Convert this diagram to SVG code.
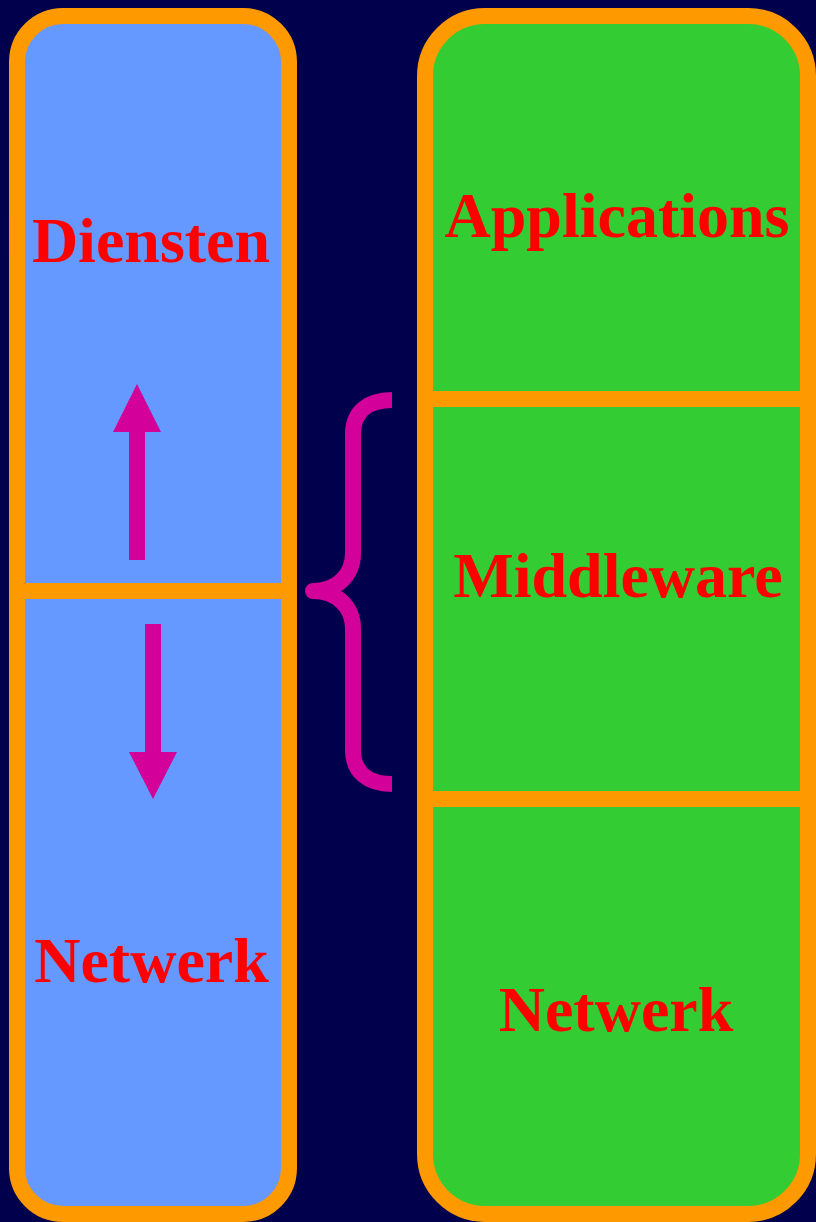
<svg xmlns="http://www.w3.org/2000/svg" width="816" height="1222" viewBox="0 0 816 1222">
<style>
.box{stroke:#FF9900;stroke-width:16}
.div{stroke:#FF9900;stroke-width:16}
.lbl{font-family:"Liberation Serif","Times New Roman",serif;font-weight:bold;font-size:64px;fill:#FF0000;text-anchor:middle}
.conn{fill:none;stroke:#D4009A;stroke-width:16}
.head{fill:#D4009A}
</style>
<rect x="0" y="0" width="816" height="1222" fill="#00004C"/>
<g id="left-stack">
<rect class="box" x="17" y="16" width="272" height="1198" rx="46" ry="46" fill="#6699FF"/>
<line class="div" x1="17" y1="591" x2="289" y2="591"/>
</g>
<g id="right-stack">
<rect class="box" x="425" y="16" width="383" height="1198" rx="60" ry="60" fill="#33CC33"/>
<line class="div" x1="425" y1="399" x2="808" y2="399"/>
<line class="div" x1="425" y1="799" x2="808" y2="799"/>
</g>
<g id="diensten"><text class="lbl" x="151" y="262">Diensten</text></g>
<g id="netwerk-left"><text class="lbl" x="151.5" y="982">Netwerk</text></g>
<g id="applications"><text class="lbl" x="617" y="237">Applications</text></g>
<g id="middleware"><text class="lbl" x="618" y="597">Middleware</text></g>
<g id="netwerk-right"><text class="lbl" x="616" y="1031">Netwerk</text></g>
<g id="connectors">
<path class="conn" stroke-linejoin="round" d="M392,400 C368,400 353,412 353,434 L353,553 C353,576 336,591 313,591 C336,591 353,606 353,629 L353,750 C353,772 368,784 392,784"/>
<line class="conn" x1="137" y1="560" x2="137" y2="428"/>
<polygon class="head" points="137,384 161,432 113,432"/>
<line class="conn" x1="153" y1="624" x2="153" y2="756"/>
<polygon class="head" points="153,799 177,752 129,752"/>
</g>
</svg>
